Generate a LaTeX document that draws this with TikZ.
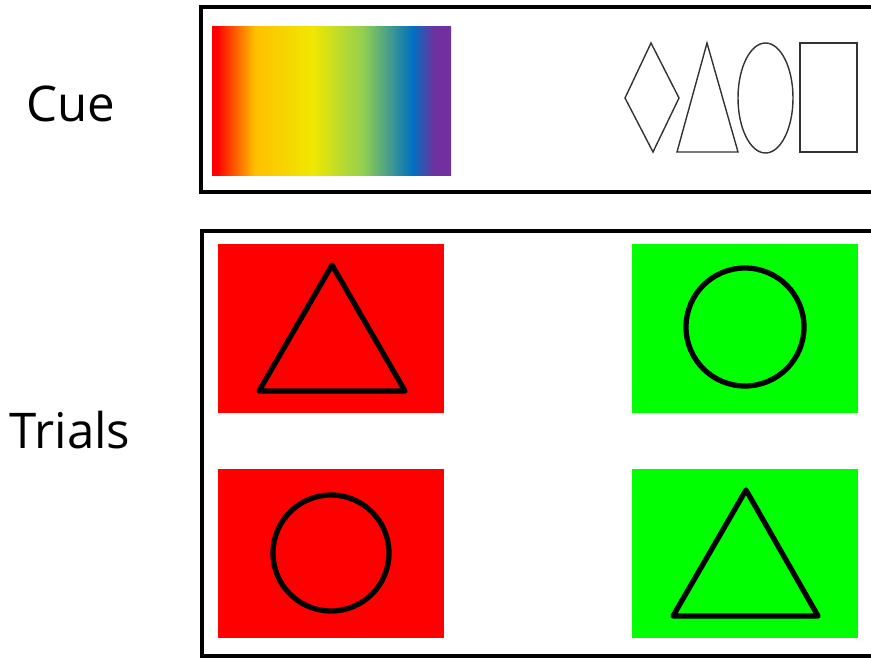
\documentclass[tikz,border=0pt]{standalone}
\usepackage{fontspec}
\setmainfont{Open Sans}
\usepackage{tikz}
\usetikzlibrary{shapes.geometric}
\definecolor{cuered}{HTML}{FF0000}
\definecolor{cueredorange}{HTML}{FF5500}
\definecolor{cueorange}{HTML}{FFC000}
\definecolor{cueyellow}{HTML}{F0E800}
\definecolor{cuegreen}{HTML}{92D050}
\definecolor{cueblue}{HTML}{0070C0}
\definecolor{cuepurple}{HTML}{7030A0}
\definecolor{trialred}{HTML}{FF0000}
\definecolor{trialgreen}{HTML}{00FF00}
\pgfdeclarehorizontalshading{rainbow}{100bp}{color(0bp)=(cuered); color(25bp)=(cuered); color(26bp)=(cuered);
  color(29.5bp)=(cueredorange); color(34bp)=(cueorange); color(46bp)=(cueyellow); color(56.5bp)=(cuegreen);
  color(67bp)=(cueblue); color(71.5bp)=(cuepurple); color(75bp)=(cuepurple); color(100bp)=(cuepurple)}

\begin{document}
\begin{tikzpicture}[x=0.02cm, y=-0.02cm,
    panel/.style={line width=2.2pt},
    outline/.style={draw=black!80, line width=0.8pt},
    trialshape/.style={draw=black, line width=3pt, line join=round},
    label/.style={font=\fontsize{28}{32}\selectfont, anchor=base}]
    \useasboundingbox (0,0) rectangle (871,659);

    % Cue panel
    \draw[panel] (885,7) -- (201,7) -- (201,192) -- (885,192);
    \shade[shading=rainbow] (212,26) rectangle (451,175);
    \draw[outline] (625,98) -- (651,43) -- (679,98) -- (653,152) -- cycle;
    \draw[outline] (707,43) -- (738,152) -- (677,152) -- cycle;
    \draw[outline] (765.5,98) ellipse [x radius=27.5, y radius=55];
    \draw[outline] (800,43) rectangle (857,152);
    \node[label] (cue) at (71,121) {Cue};

    % Trials panel
    \draw[panel] (885,231) -- (202,231) -- (202,656) -- (885,656);
    \node[label] (trials) at (70,448) {Trials};

    % Trial 1: red, triangle
    \fill[trialred] (218,244) rectangle (444,413);
    \draw[trialshape] (332,265) -- (405,391) -- (259,391) -- cycle;

    % Trial 2: green, circle
    \fill[trialgreen] (632,244) rectangle (858,413);
    \draw[trialshape] (745,327) circle [radius=59];

    % Trial 3: red, circle
    \fill[trialred] (218,469) rectangle (444,638);
    \draw[trialshape] (331,553) circle [radius=58];

    % Trial 4: green, triangle
    \fill[trialgreen] (632,469) rectangle (858,638);
    \draw[trialshape] (746,490) -- (818,616) -- (673,616) -- cycle;

\end{tikzpicture}
\end{document}
